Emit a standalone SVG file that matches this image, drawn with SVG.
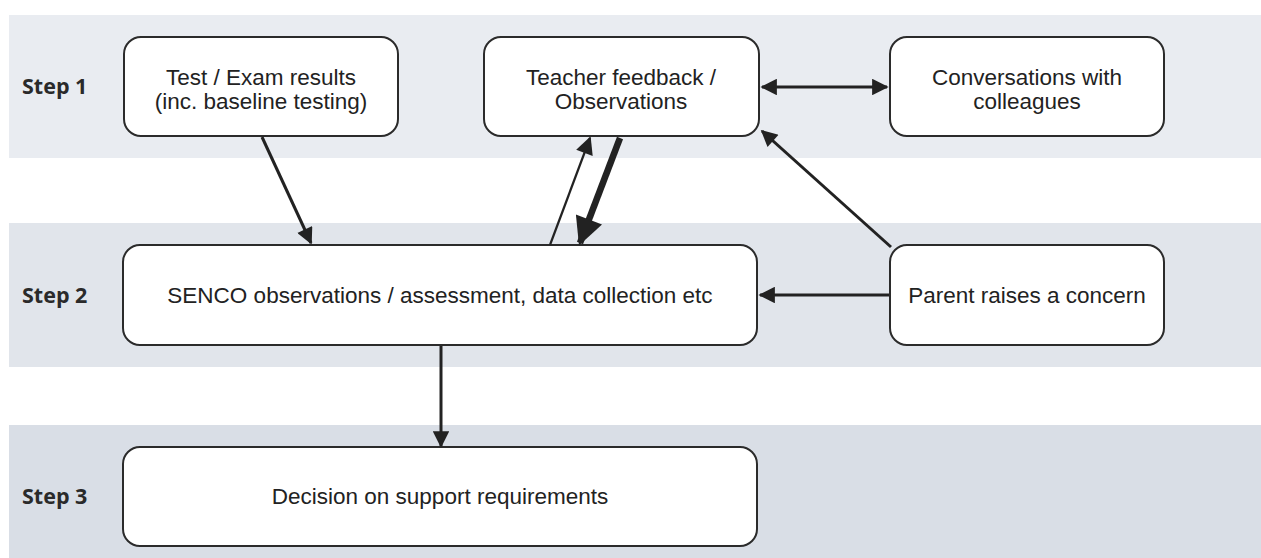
<svg xmlns="http://www.w3.org/2000/svg" width="1261" height="558" viewBox="0 0 1261 558">
<style>
.node rect{fill:#fff;stroke:#2b2b2b;stroke-width:2}
.node text{font-family:"Liberation Sans",Arial,sans-serif;font-size:22.5px;fill:#222;text-anchor:middle}
.step{font-family:"Open Sans","Noto Sans",sans-serif;font-weight:bold;font-size:21.5px;fill:#2a2a2a}
.conn line{stroke:#222;stroke-width:3}
</style>
<defs>
<marker id="ah" viewBox="0 0 10 10" refX="9" refY="5" markerWidth="6.5" markerHeight="5.5" markerUnits="strokeWidth" orient="auto-start-reverse">
<path d="M0,0 L10,5 L0,10 z" fill="#222"/>
</marker>
<marker id="ahs" viewBox="0 0 10 10" refX="9" refY="5" markerWidth="11" markerHeight="8" markerUnits="strokeWidth" orient="auto">
<path d="M0,0 L10,5 L0,10 z" fill="#222"/>
</marker>
<marker id="ahb" viewBox="0 0 10 10" refX="9" refY="5" markerWidth="5.5" markerHeight="4.3" markerUnits="strokeWidth" orient="auto">
<path d="M0,0 L10,5 L0,10 z" fill="#222"/>
</marker>
</defs>
<rect x="0" y="0" width="1261" height="558" fill="#fff"/>
<g id="bands">
<rect x="9" y="15" width="1252" height="143" fill="#e9ecf1"/>
<rect x="9" y="223" width="1252" height="144" fill="#e1e5eb"/>
<rect x="9" y="425" width="1252" height="133" fill="#d9dee6"/>
<text class="step" x="22" y="94">Step 1</text>
<text class="step" x="22" y="303">Step 2</text>
<text class="step" x="22" y="504">Step 3</text>
</g>
<g id="n-test" class="node"><rect x="124" y="37" width="274" height="99" rx="17"/><text x="261" y="85">Test / Exam results</text><text x="261" y="109">(inc. baseline testing)</text></g>
<g id="n-teacher" class="node"><rect x="484" y="37" width="275" height="99" rx="17"/><text x="621" y="85">Teacher feedback /</text><text x="621" y="109">Observations</text></g>
<g id="n-conv" class="node"><rect x="890" y="37" width="274" height="99" rx="17"/><text x="1027" y="85">Conversations with</text><text x="1027" y="109">colleagues</text></g>
<g id="n-senco" class="node"><rect x="123" y="245" width="634" height="100" rx="17"/><text x="440" y="303">SENCO observations / assessment, data collection etc</text></g>
<g id="n-parent" class="node"><rect x="890" y="245" width="274" height="100" rx="17"/><text x="1027" y="303">Parent raises a concern</text></g>
<g id="n-decision" class="node"><rect x="123" y="447" width="634" height="99" rx="17"/><text x="440" y="504">Decision on support requirements</text></g>
<g id="connectors" class="conn">
<line x1="262" y1="137" x2="311" y2="243" marker-end="url(#ah)"/>
<line x1="762" y1="87" x2="887" y2="87" marker-start="url(#ah)" marker-end="url(#ah)"/>
<line x1="550" y1="245" x2="590" y2="138" style="stroke-width:2.2" marker-end="url(#ahs)"/>
<line x1="620" y1="138" x2="580" y2="243" style="stroke-width:6.5" marker-end="url(#ahb)"/>
<line x1="891" y1="247" x2="762" y2="131" marker-end="url(#ah)"/>
<line x1="889" y1="295" x2="760" y2="295" marker-end="url(#ah)"/>
<line x1="441" y1="346" x2="441" y2="446" marker-end="url(#ah)"/>
</g>
</svg>
